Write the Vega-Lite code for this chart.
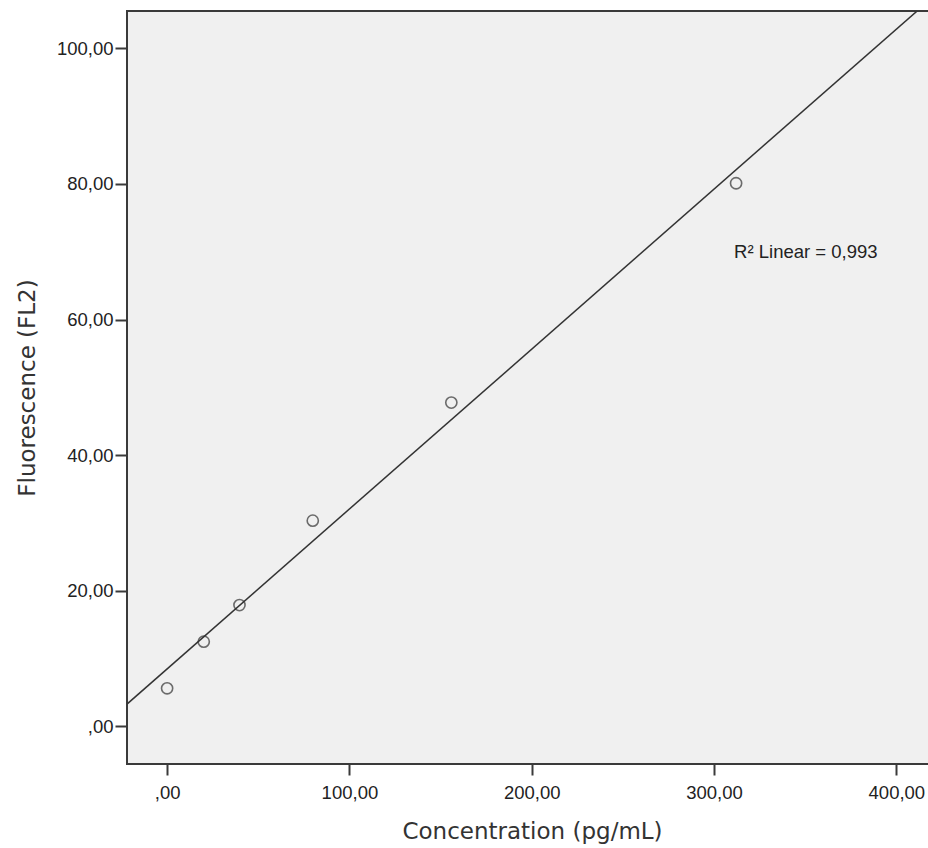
{
  "$schema": "https://vega.github.io/schema/vega-lite/v6.json",
  "autosize": "none",
  "padding": {"left": 127, "top": 11, "right": 0, "bottom": 84},
  "width": 810,
  "height": 753,
  "background": "white",
  "config": {
    "view": {"fill": "#f0f0f0", "stroke": "#3a3a3a", "strokeWidth": 2},
    "axis": {"grid": false, "domain": false, "tickColor": "#3a3a3a", "tickWidth": 2, "labelColor": "#222", "labelFont": "Liberation Sans", "labelFontSize": 18.5, "titleFont": "DejaVu Sans", "titleFontWeight": "normal", "titleFontSize": 23, "titleColor": "#333"}
  },
  "data": {"values": [
    {"conc": 0, "fl": 5.63},
    {"conc": 20.1, "fl": 12.5},
    {"conc": 39.7, "fl": 17.9},
    {"conc": 79.9, "fl": 30.35},
    {"conc": 155.9, "fl": 47.76},
    {"conc": 312.1, "fl": 80.1}
  ]},
  "layer": [
    {
      "transform": [{"regression": "fl", "on": "conc", "extent": [-22, 422.3]}],
      "mark": {"type": "line", "color": "#333", "strokeWidth": 1.5, "clip": true},
      "encoding": {
        "x": {"field": "conc", "type": "quantitative"},
        "y": {"field": "fl", "type": "quantitative"}
      }
    },
    {
      "mark": {"type": "point", "shape": "circle", "filled": false, "color": "#333", "strokeWidth": 1.6, "size": 125},
      "encoding": {
        "x": {"field": "conc", "type": "quantitative",
          "scale": {"domain": [-22, 422.3], "nice": false, "zero": false},
          "axis": {"values": [0, 100, 200, 300, 400], "tickSize": 11, "labelPadding": 8,
            "labelExpr": "datum.value == 0 ? ',00' : replace(format(datum.value, '.2f'), '.', ',')",
            "title": "Concentration (pg/mL)", "titleX": 405, "titleY": 74, "titleBaseline": "alphabetic", "titleAnchor": "middle", "titleAlign": "center"}},
        "y": {"field": "fl", "type": "quantitative",
          "scale": {"domain": [-5.53, 105.5], "nice": false, "zero": false},
          "axis": {"values": [0, 20, 40, 60, 80, 100], "tickSize": 12, "labelPadding": 2,
            "labelExpr": "datum.value == 0 ? ',00' : replace(format(datum.value, '.2f'), '.', ',')",
            "title": "Fluorescence (FL2)", "titleX": -93, "titleY": 376.5, "titleAngle": -90, "titleBaseline": "alphabetic", "titleAlign": "center", "titleAnchor": "middle"}}
      }
    },
    {
      "data": {"values": [{"label": "R² Linear = 0,993"}]},
      "mark": {"type": "text", "align": "left", "baseline": "middle", "font": "Liberation Sans", "fontSize": 18.5, "fontWeight": "normal", "color": "#222"},
      "encoding": {
        "x": {"datum": 311},
        "y": {"datum": 70},
        "text": {"field": "label"}
      }
    }
  ]
}
